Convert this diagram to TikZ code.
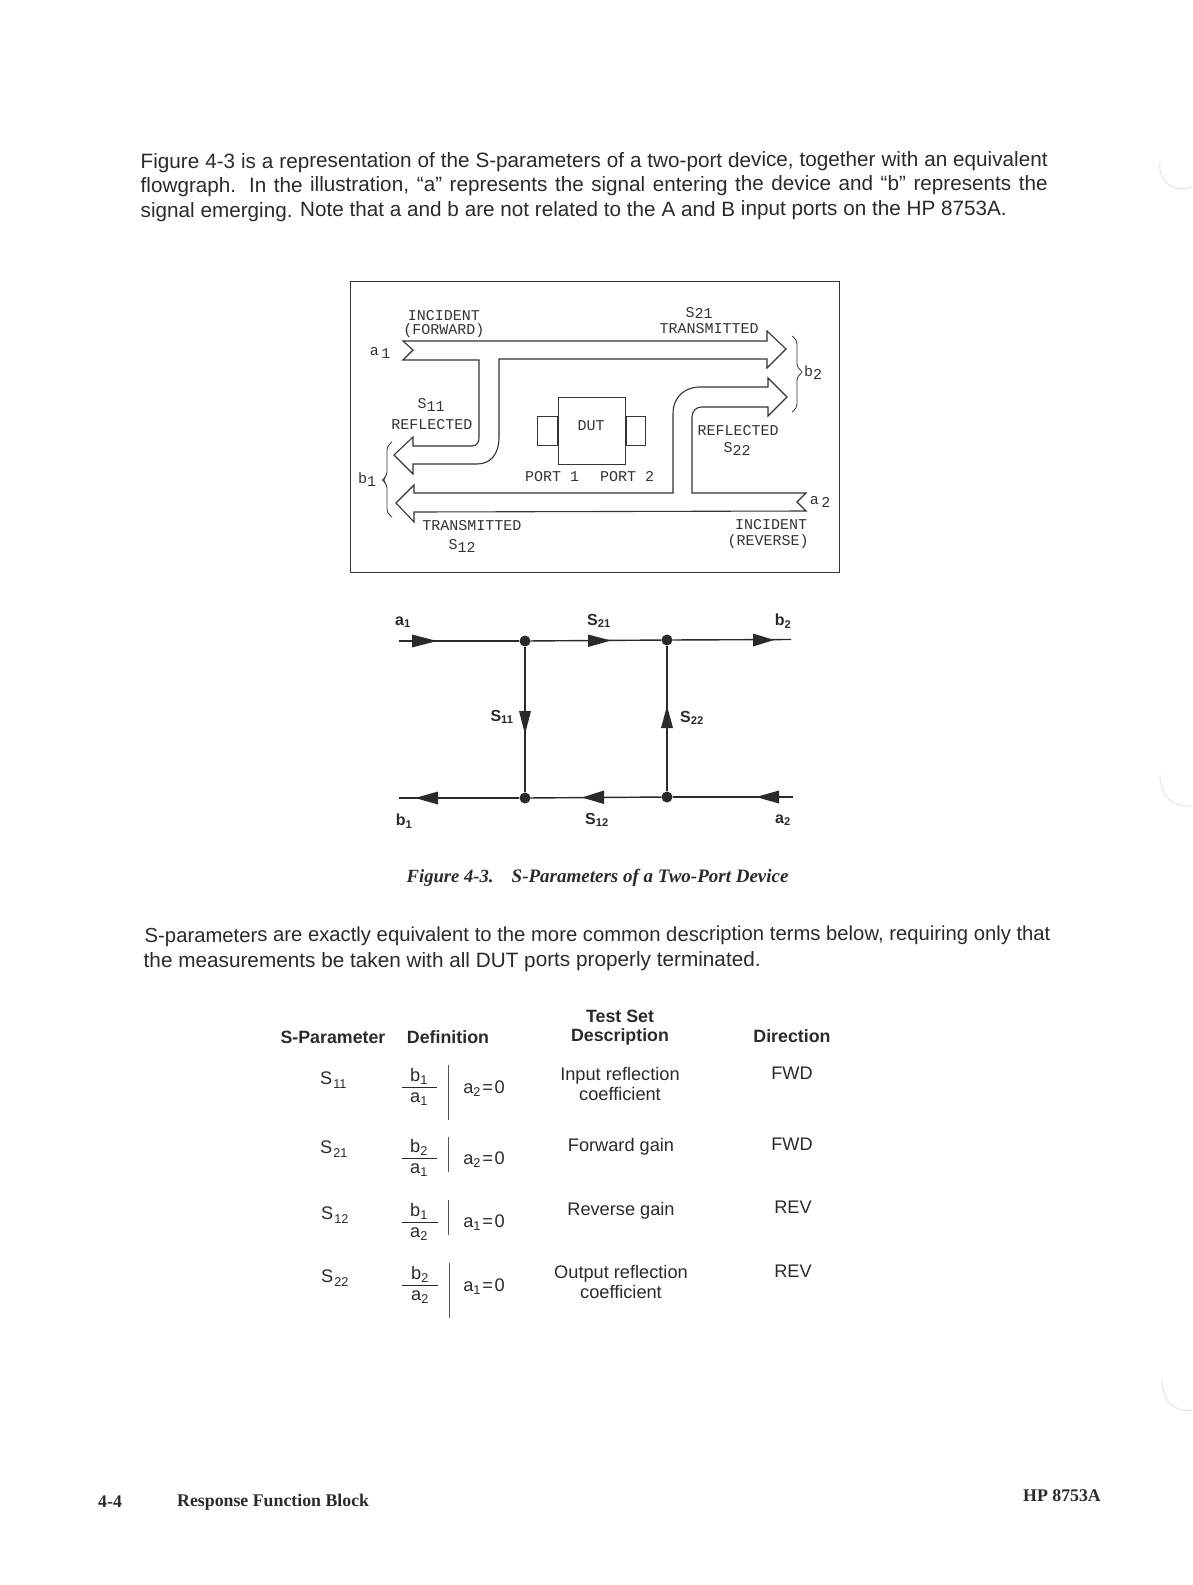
\documentclass[tikz,border=0pt]{standalone}
\usepackage{fontspec}
\setmainfont{Liberation Sans}
\newfontfamily\plotfont{Liberation Mono}
\newfontfamily\timesfont{Liberation Serif}
\newcommand{\fs}[1]{\fontsize{#1pt}{#1pt}\selectfont}
\newcommand{\lowr}[1]{\raisebox{-3pt}{#1}}
\newcommand{\cnd}[1]{a\textsubscript{#1}\kern1.5pt=\kern1.5pt0}
\newcommand{\pname}[1]{S\kern1pt\raisebox{-1.5pt}{\textsubscript{#1}}}
\definecolor{ink}{HTML}{2A2A2A}
\definecolor{plotink}{HTML}{333333}
\tikzset{
  x=1pt,y=-1pt,
  para/.style={anchor=west,inner sep=0,text=ink,font=\fs{20.7},rotate=0.13},
  plotlab/.style={inner sep=0,text=plotink,font=\plotfont\fs{15}},
  band/.style={draw=plotink,line width=1.1pt,line join=miter},
  brc/.style={draw=plotink,line width=0.8pt,rounded corners=4pt},
  frm/.style={draw=plotink,line width=1pt},
  flab/.style={inner sep=0,text=ink,font=\bfseries\fs{16}},
  junction/.style={circle,fill=ink,inner sep=0,minimum size=11pt},
  wire/.style={draw=ink,line width=1.4pt},
  ahead/.style={fill=ink},
  hdr/.style={inner sep=0,text=ink,font=\bfseries\fs{17.8}},
  cell/.style={inner sep=0,text=ink,font=\fs{18.2}},
  fracbar/.style={draw=ink,line width=0.6pt},
  cond/.style={draw=ink!80,line width=0.7pt},
  foot/.style={inner sep=0,anchor=west,text=ink,font=\timesfont\bfseries\fs{17.8}},
  capt/.style={inner sep=0,anchor=west,text=ink},
  scanmark/.style={draw=black!11,line width=1pt}
}
\begin{document}
\begin{tikzpicture}
\useasboundingbox (0,0) rectangle (1192,1585);
% paragraph 1
\node[para] (p1) at (140.5,163) {\makebox[907pt][s]{Figure 4-3 is a representation of the S-parameters of a two-port device, together with an equivalent}};
\node[para] (p2) at (140.5,187) {\makebox[907pt][s]{flowgraph. In the illustration, ``a'' represents the signal entering the device and ``b'' represents the}};
\node[para] (p3) at (140.5,212) {signal emerging. Note that a and b are not related to the A and B input ports on the HP 8753A.};
% frame
\node[frm,minimum width=489pt,minimum height=291pt,inner sep=0,anchor=north west] (box) at (350,281) {};
% bands
\draw[band] (403,341) -- (767,341) -- (767,331) -- (786,349) -- (767,368) -- (767,359) -- (499,359)
  -- (499,437) .. controls (499,455) and (490,464) .. (477,464) -- (413,464) -- (413,474) -- (394,455)
  -- (413,437) -- (413,446) -- (472,446) .. controls (477,446) and (479,442) .. (479,438) -- (479,360) -- (403,360) -- (413,350) -- cycle;
\draw[band] (806,493) -- (692,493) -- (692,417) .. controls (692,411) and (696,407) .. (702,407) -- (768,407)
  -- (768,416) -- (787,397) -- (768,378) -- (768,387) -- (700,387) .. controls (684,387) and (673,398) .. (673,413)
  -- (673,493) -- (414,493) -- (414,485) -- (396,503) -- (414,522) -- (414,512) -- (806,511) -- (797,502) -- cycle;
% DUT
\node[frm,minimum width=67pt,minimum height=67pt,inner sep=0,anchor=north west,text=plotink] (dut) at (558,397) {};
\node[plotlab] (dutlab) at (591,426) {DUT};
\node[frm,minimum width=20pt,minimum height=29pt,inner sep=0,anchor=east] (portl) at (dut.west) {};
\node[frm,minimum width=19pt,minimum height=29pt,inner sep=0,anchor=west] (portr) at (dut.east) {};
\node[plotlab] (port1) at (552,477) {PORT 1};
\node[plotlab] (port2) at (627,477) {PORT 2};
% braces
\draw[brc] (792,336) -- (797,340) -- (797,368) -- (804,372) -- (797,376) -- (797,408) -- (792,412);
\draw[brc] (392,442) -- (387,446) -- (387,476) -- (382,480) -- (387,484) -- (387,513) -- (392,517);
% labels
\node[plotlab] (inc1) at (444,316) {INCIDENT};
\node[plotlab] (fwd) at (444,331) {(FORWARD)};
\node[plotlab] (s21a) at (699,313) {S\raisebox{-1pt}{21}};
\node[plotlab] (tr1) at (709,329) {TRANSMITTED};
\node[plotlab] (a1a) at (380,353) {a\,\lowr{1}};
\node[plotlab] (s11a) at (431,405) {S\lowr{11}};
\node[plotlab] (ref1) at (432,425) {REFLECTED};
\node[plotlab] (b1a) at (367,480) {b\lowr{1}};
\node[plotlab] (b2a) at (813,373) {b\lowr{2}};
\node[plotlab] (ref2) at (738,431) {REFLECTED};
\node[plotlab] (s22a) at (737,449) {S\lowr{22}};
\node[plotlab] (tr2) at (472,526) {TRANSMITTED};
\node[plotlab] (s12a) at (462,546) {S\lowr{12}};
\node[plotlab] (a2a) at (820,502) {a\,\lowr{2}};
\node[plotlab] (inc2) at (771,525) {INCIDENT};
\node[plotlab] (rev) at (768,542) {(REVERSE)};
% flowgraph
\node[junction] (n1) at (525,641) {};
\node[junction] (n2) at (667,640) {};
\node[junction] (n3) at (525,798) {};
\node[junction] (n4) at (667,797) {};
\coordinate (ina) at (399,641);
\coordinate (outb) at (791,639.5);
\coordinate (outa) at (399,798);
\coordinate (inb) at (793,797);
\draw[wire] (ina) -- (n1);
\draw[wire] (n1) -- (n2);
\draw[wire] (n2) -- (outb);
\draw[wire] (n1) -- (n3);
\draw[wire] (n4) -- (n2);
\draw[wire] (inb) -- (n4);
\draw[wire] (n4) -- (n3);
\draw[wire] (n3) -- (outa);
\fill[ahead] (412,634.5) -- (437,641) -- (412,647.5) -- cycle;
\fill[ahead] (588,634.5) -- (611,640.5) -- (588,647) -- cycle;
\fill[ahead] (753,633.5) -- (774,640) -- (753,646.5) -- cycle;
\fill[ahead] (438,791.5) -- (415,798) -- (438,804.5) -- cycle;
\fill[ahead] (604,790.5) -- (582,797.5) -- (604,804) -- cycle;
\fill[ahead] (779,790.5) -- (756,797) -- (779,803.5) -- cycle;
\fill[ahead] (519,711) -- (525,734) -- (531,711) -- cycle;
\fill[ahead] (661,728) -- (667,706) -- (673,728) -- cycle;
\node[flab] (fa1) at (403,622) {a\textsubscript{1}};
\node[flab] (fs21) at (599,621) {S\textsubscript{21}};
\node[flab] (fb2) at (783,621) {b\textsubscript{2}};
\node[flab] (fs11) at (502,717) {S\textsubscript{11}};
\node[flab] (fs22) at (692,718) {S\textsubscript{22}};
\node[flab] (fb1) at (404,821) {b\textsubscript{1}};
\node[flab] (fs12) at (597,820) {S\textsubscript{12}};
\node[flab] (fa2) at (783,820) {a\textsubscript{2}};
% caption
\node[capt,font=\timesfont\bfseries\itshape\fs{18.6}] (cap1) at (406.5,878) {Figure 4-3.};
\node[capt,font=\timesfont\bfseries\itshape\fs{19}] (cap2) at (511.5,878) {S-Parameters of a Two-Port Device};
% paragraph 2
\node[para,font=\fs{20.27}] (q1) at (144.5,937) {S-parameters are exactly equivalent to the more common description terms below, requiring only that};
\node[para,font=\fs{20.75}] (q2) at (143.5,962.5) {the measurements be taken with all DUT ports properly terminated.};
% table head
\node[hdr] (h1) at (333,1037) {S-Parameter};
\node[hdr] (h2) at (448,1037) {Definition};
\node[hdr] (h3a) at (620,1016) {Test Set};
\node[hdr] (h3b) at (620,1037) {Description};
\node[hdr] (h4) at (792,1036) {Direction};
% S column
\node[cell,anchor=west] (r1s) at (320,1080) {\pname{11}};
\node[cell,anchor=west] (r2s) at (320,1149) {\pname{21}};
\node[cell,anchor=west] (r3s) at (321,1215) {\pname{12}};
\node[cell,anchor=west] (r4s) at (321,1278) {\pname{22}};
% fractions
\node[cell] (r1n) at (419,1076) {b\textsubscript{1}};
\node[cell] (r1d) at (419,1099) {a\textsubscript{1}};
\draw[fracbar] (402,1087) -- (437,1087);
\draw[cond] (448,1065) -- (448,1120);
\node[cell] (r1c) at (484,1089) {\cnd{2}};
\node[cell] (r2n) at (419,1147) {b\textsubscript{2}};
\node[cell] (r2d) at (419,1170) {a\textsubscript{1}};
\draw[fracbar] (402,1158.5) -- (437,1158.5);
\draw[cond] (448,1137) -- (448,1172);
\node[cell] (r2c) at (484,1160) {\cnd{2}};
\node[cell] (r3n) at (419,1211) {b\textsubscript{1}};
\node[cell] (r3d) at (419,1234) {a\textsubscript{2}};
\draw[fracbar] (402,1222) -- (438,1222);
\draw[cond] (448,1200) -- (448,1235);
\node[cell] (r3c) at (484,1223) {\cnd{1}};
\node[cell] (r4n) at (420,1274) {b\textsubscript{2}};
\node[cell] (r4d) at (420,1297) {a\textsubscript{2}};
\draw[fracbar] (402,1285) -- (438,1285);
\draw[cond] (449,1263) -- (449,1318);
\node[cell] (r4c) at (484,1287) {\cnd{1}};
% descriptions
\node[cell] (d1a) at (620,1076) {Input reflection};
\node[cell] (d1b) at (620,1094) {coefficient};
\node[cell] (d2) at (621,1147) {Forward gain};
\node[cell] (d3) at (621,1211) {Reverse gain};
\node[cell] (d4a) at (621,1274) {Output reflection};
\node[cell] (d4b) at (621,1292) {coefficient};
\node[cell] (e1) at (792,1073) {FWD};
\node[cell] (e2) at (792,1144) {FWD};
\node[cell] (e3) at (793,1207) {REV};
\node[cell] (e4) at (793,1271) {REV};
% footer
\node[foot] (f1) at (98,1502) {4-4};
\node[foot] (f2) at (177,1502) {Response Function Block};
\node[foot] (f3) at (1023,1496) {HP 8753A};
% margin marks
\draw[scanmark] (1160,162) .. controls (1158,180) and (1170,193) .. (1192,187);
\draw[scanmark] (1160,775) .. controls (1160,795) and (1172,808) .. (1192,806);
\draw[scanmark] (1162,1380) .. controls (1162,1400) and (1174,1413) .. (1192,1410);
\end{tikzpicture}
\end{document}
